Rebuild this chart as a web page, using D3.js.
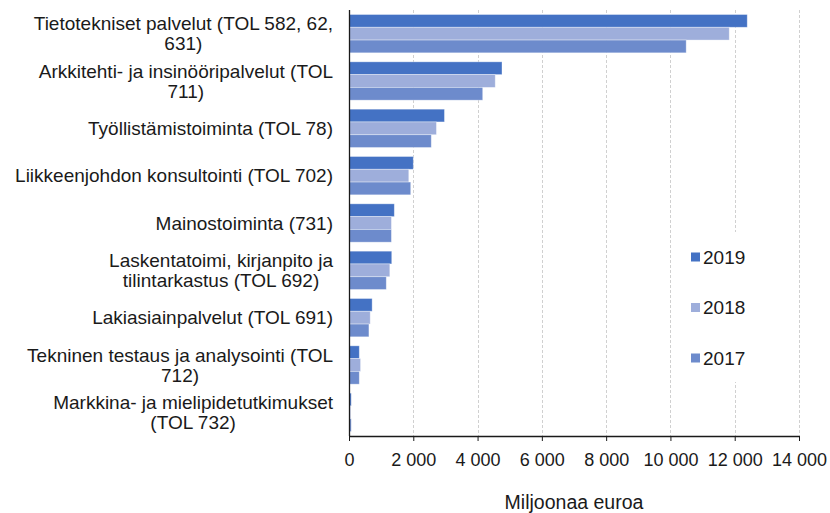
<!DOCTYPE html>
<html>
<head>
<meta charset="utf-8">
<title>Palvelualat 2017-2019</title>
<script src="https://cdn.jsdelivr.net/npm/d3@7/dist/d3.min.js"></script>
<style type="text/css">
body { margin: 0; background: #fff; }
svg text { font-family: "Liberation Sans", Arial, sans-serif; fill: #1a1a1a; }
.grid line { stroke: #d0d0d0; stroke-dasharray: 3,2; }
.axis path, .axis line { stroke: #1a1a1a; }
</style>
</head>
<body>
<svg width="830" height="513"></svg>
<script type="text/javascript">
// toimialat, rivinvaihdot kuten alkuperäisessä kuvassa
var categories = [
  "Tietotekniset palvelut (TOL 582, 62,\n631)",
  "Arkkitehti- ja insinööripalvelut (TOL\n711)",
  "Työllistämistoiminta (TOL 78)",
  "Liikkeenjohdon konsultointi (TOL 702)",
  "Mainostoiminta (731)",
  "Laskentatoimi, kirjanpito ja\ntilintarkastus (TOL 692)",
  "Lakiasiainpalvelut (TOL 691)",
  "Tekninen testaus ja analysointi (TOL\n712)",
  "Markkina- ja mielipidetutkimukset\n(TOL 732)"
];
var years = ["2019", "2018", "2017"];
var values2019 = [12390, 4760, 2970, 2000, 1410, 1330, 720, 320, 70];
var values2018 = [11830, 4550, 2720, 1860, 1320, 1270, 660, 360, 50];
var values2017 = [10490, 4160, 2560, 1920, 1320, 1160, 620, 320, 70];
var xTicks = [0, 2000, 4000, 6000, 8000, 10000, 12000, 14000];
var colors = ["#4472c4", "#9eaedb", "#6d8bcc"];

var series = [values2019, values2018, values2017];
var svg = d3.select("svg");
var margin = {top: 10, right: 31, bottom: 77, left: 349};
var width = 830 - margin.left - margin.right;
var height = 513 - margin.top - margin.bottom;
var g = svg.append("g").attr("transform", "translate(" + margin.left + "," + margin.top + ")");

var x = d3.scaleLinear().domain([0, 14000]).range([0, width]);
var y = d3.scaleBand().domain(d3.range(categories.length)).range([0, height]).paddingInner(0.19).paddingOuter(0.095);
var y1 = d3.scaleBand().domain(d3.range(years.length)).range([0, y.bandwidth()]);

// pystysuorat apuviivat
g.append("g").attr("class", "grid").selectAll("line").data(xTicks.slice(1)).enter().append("line")
  .attr("x1", function(d){ return Math.round(x(d)) + 0.5; }).attr("x2", function(d){ return Math.round(x(d)) + 0.5; })
  .attr("y1", 0).attr("y2", height);

// palkit
var groups = g.selectAll(".cat").data(categories).enter().append("g").attr("class", "cat")
  .attr("transform", function(d, i){ return "translate(0," + y(i) + ")"; });
groups.selectAll("rect").data(function(d, i){ return series.map(function(s, k){ return {k: k, v: s[i]}; }); })
  .enter().append("rect")
  .attr("x", 0).attr("y", function(d){ return y1(d.k); })
  .attr("width", function(d){ return x(d.v); }).attr("height", y1.bandwidth())
  .style("fill", function(d){ return colors[d.k]; })
  .style("stroke", "#fff").style("stroke-opacity", 0.45).style("stroke-width", 0.8);

// x-akseli
var xAxis = g.append("g").attr("class", "axis").attr("transform", "translate(0," + height + ")")
  .call(d3.axisBottom(x).tickValues(xTicks).tickSize(5).tickSizeOuter(0)
    .tickFormat(function(d){ return d3.format(",")(d).replace(",", " "); }));
xAxis.select(".domain").style("stroke-width", 1.3);
xAxis.selectAll("text").style("font-size", "18px").attr("dy", "1.2em");

// y-akselin viiva
g.append("line").attr("x1", 0.5).attr("x2", 0.5).attr("y1", 0).attr("y2", height)
  .style("stroke", "#1a1a1a").style("stroke-width", 1.3);

// toimialojen nimet, rivitetyt keskitetään lohkossa
var labelRight = -16;
g.selectAll(".cat-label").data(categories).enter().append("text").attr("class", "cat-label")
  .style("font-size", "19px")
  .each(function(d, i){
    var lines = d.split("\n");
    var t = d3.select(this);
    var spans = lines.map(function(l){ return t.append("tspan").text(l); });
    var maxW = d3.max(spans, function(s){ return s.node().getComputedTextLength(); });
    var cy = y(i) + y.bandwidth() / 2;
    var lh = 20;
    spans.forEach(function(s, j){
      s.attr("x", labelRight - maxW / 2).attr("text-anchor", "middle")
       .attr("y", cy + (j - (lines.length - 1) / 2) * lh).attr("dy", "0.35em");
    });
  });

// akselin otsikko
svg.append("text").attr("x", margin.left + width / 2).attr("y", 509).attr("text-anchor", "middle")
  .style("font-size", "19.5px").text("Miljoonaa euroa");

// selite
var legend = svg.append("g").attr("transform", "translate(683,232)");
legend.append("rect").attr("width", 110).attr("height", 150).style("fill", "#fff");
var items = legend.selectAll(".legend").data(years).enter().append("g").attr("class", "legend")
  .attr("transform", function(d, i){ return "translate(8," + (25 + i * 50.5) + ")"; });
items.append("rect").attr("y", -4.5).attr("width", 9).attr("height", 9)
  .style("fill", function(d, i){ return colors[i]; });
items.append("text").attr("x", 12).attr("dy", "0.36em").style("font-size", "19px").text(function(d){ return d; });
</script>
</body>
</html>
